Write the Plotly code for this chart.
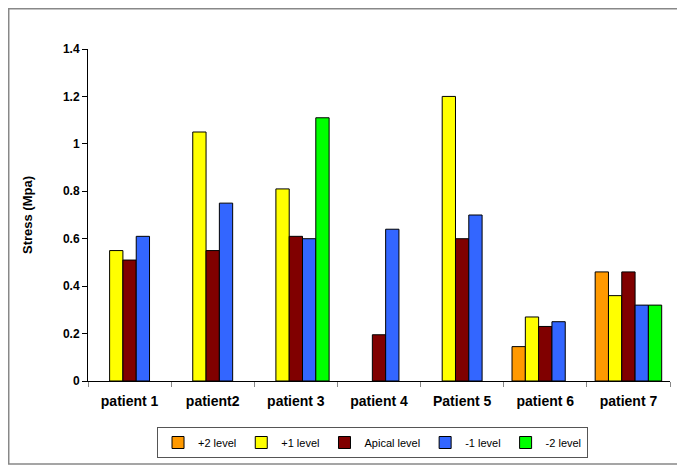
import plotly.graph_objects as go

categories = ["patient 1", "patient2", "patient 3", "patient 4", "Patient 5", "patient 6", "patient 7"]
plus2 = [None, None, None, None, None, 0.145, 0.46]
plus1 = [0.55, 1.05, 0.81, None, 1.2, 0.27, 0.36]
apical = [0.51, 0.55, 0.61, 0.195, 0.60, 0.23, 0.46]
minus1 = [0.61, 0.75, 0.60, 0.64, 0.70, 0.25, 0.32]
minus2 = [None, None, 1.11, None, None, None, 0.32]

series = [
    ("+2 level", plus2, "#FF9900"),
    ("+1 level", plus1, "#FFFF00"),
    ("Apical level", apical, "#800000"),
    ("-1 level", minus1, "#3366FF"),
    ("-2 level", minus2, "#00FF00"),
]

FONT = "Liberation Sans, Arial, sans-serif"

fig = go.Figure()
for name, vals, col in series:
    fig.add_trace(go.Bar(
        x=categories, y=vals, name=name,
        marker=dict(color=col, line=dict(color="#000000", width=1)),
    ))

fig.update_layout(
    width=677, height=460,
    margin=dict(l=80, r=15, t=41, b=87, autoexpand=False),
    paper_bgcolor="white", plot_bgcolor="white",
    barmode="group", bargap=0.2, bargroupgap=0,
    font=dict(family=FONT, color="#000000"),
    showlegend=True,
    legend=dict(
        orientation="h", x=0.1186, xanchor="left", y=-0.1386, yanchor="top",
        bordercolor="#555555", borderwidth=1, bgcolor="white",
        font=dict(size=11), traceorder="normal",
    ),
    xaxis=dict(
        automargin=False,
        showline=True, linecolor="#000000", linewidth=1,
        tickson="boundaries", ticks="outside", ticklen=5, tickcolor="#888888",
        tickfont=dict(size=14, family=FONT, weight="bold"),
        ticklabelstandoff=7,
        showgrid=False,
    ),
    yaxis=dict(
        automargin=False,
        range=[0, 1.4], dtick=0.2,
        showline=True, linecolor="#000000", linewidth=1,
        ticks="outside", ticklen=5, tickcolor="#000000",
        tickfont=dict(size=12, weight="bold"),
        showgrid=False, zeroline=False,
    ),
    annotations=[dict(
        text="Stress (Mpa)", textangle=-90, xref="paper", yref="paper",
        x=-0.1048, y=0.5, xanchor="center", yanchor="middle", showarrow=False,
        font=dict(size=13, family=FONT, weight="bold"),
    )],
    shapes=[dict(
        type="rect", xref="paper", yref="paper",
        x0=-0.1362, x1=1.0189, y0=-0.25, y1=1.1212,
        line=dict(color="#888888", width=1.5), fillcolor="rgba(0,0,0,0)",
    )],
)

fig.write_html("out.html")
